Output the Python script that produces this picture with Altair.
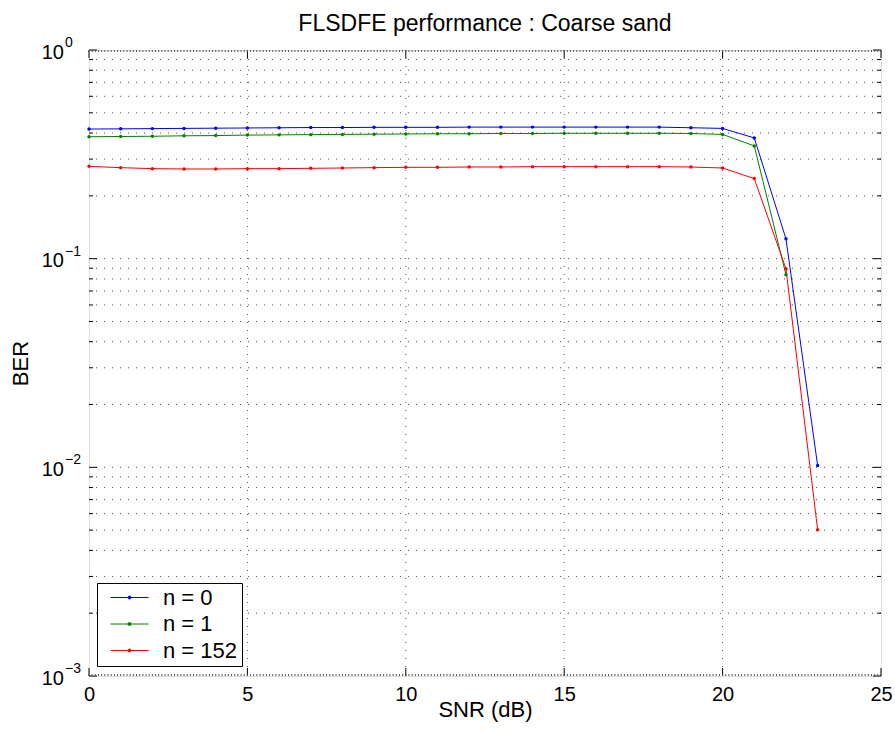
import altair as alt
import pandas as pd

FONT = "Liberation Sans"

# ---- data ----
snr = list(range(24))
ber_n0 = [0.418, 0.419, 0.420, 0.421, 0.422, 0.423, 0.424, 0.425, 0.425, 0.426,
          0.426, 0.426, 0.427, 0.427, 0.427, 0.427, 0.427, 0.427, 0.427, 0.424,
          0.421, 0.379, 0.1245, 0.0102]
ber_n1 = [0.384, 0.385, 0.386, 0.388, 0.389, 0.391, 0.392, 0.393, 0.394, 0.395,
          0.396, 0.397, 0.397, 0.398, 0.398, 0.399, 0.399, 0.399, 0.399, 0.398,
          0.394, 0.347, 0.0837]
ber_n152 = [0.277, 0.273, 0.270, 0.269, 0.269, 0.270, 0.270, 0.271, 0.272, 0.273,
            0.274, 0.274, 0.275, 0.275, 0.276, 0.276, 0.276, 0.276, 0.276, 0.275,
            0.272, 0.242, 0.0895, 0.00502]
series_names = ["n = 0", "n = 1", "n = 152"]
series_colors = ["#0000ff", "#008000", "#ff0000"]

# axis ticks / grid positions
x_major = [0, 5, 10, 15, 20, 25]
x_minor = [i / 10 for i in range(0, 251)]
y_decades = [0.001, 0.01, 0.1]
y_mantissas = [1, 2, 3, 4, 5, 6, 7, 8, 9]
y_label_values = [1, 0.1, 0.01, 0.001]
y_label_exps = ["0", "\u22121", "\u22122", "\u22123"]

W, H = 792, 626

rows = []
for name, vals in zip(series_names, [ber_n0, ber_n1, ber_n152]):
    for s, b in zip(snr, vals):
        rows.append({"snr": s, "ber": b, "series": name})
df = pd.DataFrame(rows)

y_all = [round(d * m, 6) for d in y_decades for m in y_mantissas] + [1.0]
y_major = [v for v in y_all if any(abs(v - m) < 1e-9 for m in y_label_values)]
y_minor = [v for v in y_all if v not in y_major]
y_grid = [v for v in y_all if 0.001 < v < 1]
x_grid = [v for v in x_major if 0 < v < 25]

xs = alt.Scale(domain=[0, 25], nice=False, zero=False)
ys = alt.Scale(type="log", domain=[0.001, 1], nice=False)

x_axis = alt.Axis(
    values=x_major, ticks=False, domain=False, grid=False,
    labelFontSize=20, labelFont=FONT, labelColor="black", labelPadding=8,
    labelFlush=False, labelOverlap=False,
    title="SNR (dB)", titleFontSize=22, titleFont=FONT, titleColor="black",
    titleFontWeight="normal", titlePadding=-5)
y_axis = alt.Axis(
    labels=False, ticks=False, domain=False, grid=False,
    title="BER", titleFontSize=22, titleFont=FONT, titleColor="black",
    titleFontWeight="normal", titlePadding=57)

def X(f):
    return alt.X(f, scale=xs, axis=x_axis, title="SNR (dB)")

def Y(f):
    return alt.Y(f, scale=ys, axis=y_axis, title="BER")

legend_symbol = ("M-1,0L1,0M-0.08,0A0.08,0.08,0,1,1,0.08,0"
                 "A0.08,0.08,0,1,1,-0.08,0Z")

grid_style = dict(color="black", strokeWidth=1, strokeDash=[1, 7], opacity=0.7)
ygrid = alt.Chart(pd.DataFrame({"v": y_grid})).mark_rule(**grid_style).encode(y=Y("v:Q"))
xgrid = alt.Chart(pd.DataFrame({"v": x_grid})).mark_rule(**grid_style).encode(x=X("v:Q"))

lines = alt.Chart(df).mark_line(
    strokeWidth=1,
    point=alt.OverlayMarkDef(filled=True, size=12, opacity=1),
).encode(
    x=X("snr:Q"),
    y=Y("ber:Q"),
    color=alt.Color("series:N", scale=alt.Scale(domain=series_names, range=series_colors),
                    legend=alt.Legend(
                        title=None, orient="none", legendX=8, legendY=533,
                        symbolType=legend_symbol, symbolSize=1444, symbolStrokeWidth=1,
                        labelFontSize=22, labelFont=FONT, labelColor="black",
                        labelExpr="datum.label + '\u00a0\u00a0'",
                        strokeColor="black", fillColor="white", padding=4.5,
                        clipHeight=20, rowPadding=4.5, labelOffset=14,
                        symbolOffset=8.5, cornerRadius=0)),
)

def yticks(vals, length):
    d = pd.DataFrame({"v": vals})
    left = alt.Chart(d).mark_rule(color="black", strokeWidth=1).encode(
        y=Y("v:Q"), x=alt.value(0), x2=alt.value(length))
    right = alt.Chart(d).mark_rule(color="black", strokeWidth=1).encode(
        y=Y("v:Q"), x=alt.value(W - length), x2=alt.value(W))
    return [left, right]

def xticks(vals, length, color="black"):
    d = pd.DataFrame({"v": vals})
    bottom = alt.Chart(d).mark_rule(color=color, strokeWidth=1).encode(
        x=X("v:Q"), y=alt.value(H), y2=alt.value(H - length))
    top = alt.Chart(d).mark_rule(color=color, strokeWidth=1).encode(
        x=X("v:Q"), y=alt.value(0), y2=alt.value(length))
    return [bottom, top]

lab_df = pd.DataFrame({"v": y_label_values, "base": ["10"] * 4, "exp": y_label_exps})
ylab_base = alt.Chart(lab_df).mark_text(
    align="right", baseline="alphabetic", fontSize=20, font=FONT, color="black", dy=8.5
).encode(y=Y("v:Q"), x=alt.value(-25), text="base:N")
ylab_exp = alt.Chart(lab_df).mark_text(
    align="left", baseline="alphabetic", fontSize=14, font=FONT, color="black", dy=-3
).encode(y=Y("v:Q"), x=alt.value(-24), text="exp:N")

layers = [ygrid, xgrid, lines]
layers += yticks(y_major, 8) + yticks(y_minor, 4)
layers += xticks(x_major, 8) + xticks(x_minor, 2, "#555555")
layers += [ylab_base, ylab_exp]

chart = alt.layer(*layers).properties(
    width=W, height=H,
    title=alt.TitleParams("FLSDFE performance : Coarse sand", fontSize=23, font=FONT,
                          fontWeight="normal", color="black", anchor="middle", offset=0),
    autosize=alt.AutoSizeParams(type="none"),
    padding={"left": 89, "top": 50, "right": 14, "bottom": 55},
).configure_view(stroke="black", strokeWidth=1).configure(background="white")

chart.save("out.html", embed_options={"renderer": "svg", "actions": False})
